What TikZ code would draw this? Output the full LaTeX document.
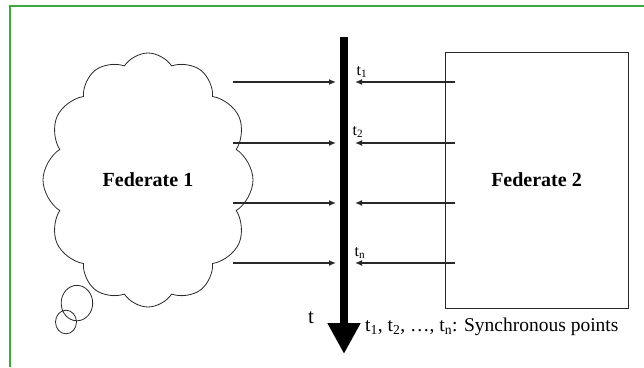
\documentclass[tikz,border=0pt]{standalone}
\usepackage{fontspec}
\setmainfont{Liberation Serif}
\usetikzlibrary{positioning, arrows.meta, shapes.callouts, shapes.symbols}
\definecolor{framegreen}{RGB}{60,170,60}
\definecolor{linegray}{RGB}{40,40,40}

\begin{document}
\begin{tikzpicture}[x=1pt, y=-1pt,
        Federate/.style = {font = \fontsize{20}{22}\selectfont\bfseries, draw = linegray, thick},
        % 
        SyncArrow/.style = {-{Latex[length=7pt, width=6pt]}, draw = linegray, line width = 1.6pt},
        % 
        SyncLabel/.style = {font = \fontsize{16}{18}\selectfont, inner sep = 0},
    ]
        \useasboundingbox (0,0) rectangle (644,367);
        % Frame
        \draw[framegreen, line width = 1.2pt] (10,367) -- (10,6) -- (645,6);

        % Federates
        \node[Federate, cloud callout, cloud puffs = 12, cloud puff arc = 115, cloud ignores aspect,
              minimum width = 210, minimum height = 254, callout absolute pointer = {(66,322)}]
              (Fed1) at (148,180) {Federate 1};
        \node[Federate, rectangle, minimum width = 183, minimum height = 256] (Fed2) at (536.5,180) {Federate 2};

        % Time axis
        \coordinate (TimeTop) at (344,37);
        \coordinate (TimeEnd) at (344,354);
        \draw[-{Triangle[length=31pt, width=31pt]}, line width = 8pt] (TimeTop) -- (TimeEnd);
        \node[font = \fontsize{21}{23}\selectfont] (TimeLabel) at (311,318) {t};

        % Synchronous points
        \coordinate (S1) at (344,82);
        \coordinate (S2) at (344,143);
        \coordinate (S3) at (344,203);
        \coordinate (S4) at (344,263);
        \node[SyncLabel] (T1) at (362,72) {t\textsubscript{1}};
        \node[SyncLabel] (T2) at (358,132) {t\textsubscript{2}};
        \node[SyncLabel] (Tn) at (360,253) {t\textsubscript{n}};
        \node[font = \fontsize{19.5}{21}\selectfont, anchor = west, inner sep = 0] (Legend) at (365,327)
              {t\textsubscript{1}, t\textsubscript{2}, \dots, t\textsubscript{n}: Synchronous points};

        % Arrows federate 1
        \draw[SyncArrow, shorten > = 8pt] (233,82) -- (S1);
        \draw[SyncArrow, shorten > = 8pt] (233,143) -- (S2);
        \draw[SyncArrow, shorten > = 8pt] (233,203) -- (S3);
        \draw[SyncArrow, shorten > = 8pt] (233,263) -- (S4);

        % Arrows federate 2
        \draw[SyncArrow, shorten > = 11pt] (455,82) -- (S1);
        \draw[SyncArrow, shorten > = 11pt] (455,143) -- (S2);
        \draw[SyncArrow, shorten > = 11pt] (455,203) -- (S3);
        \draw[SyncArrow, shorten > = 11pt] (455,263) -- (S4);

    \end{tikzpicture}
\end{document}
